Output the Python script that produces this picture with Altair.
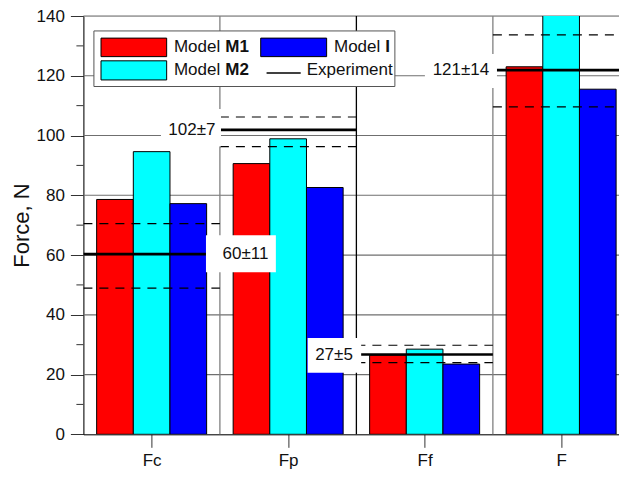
import altair as alt
import pandas as pd

categories = ["Fc", "Fp", "Ff", "F"]
model_m1 = [78.6, 90.6, 26.5, 123.0]
model_m2 = [94.6, 98.9, 28.5, 141.0]
model_i = [77.2, 82.6, 23.5, 115.5]
exp_mean = [60.3, 101.9, 26.7, 121.9]
exp_upper = [70.5, 106.2, 29.8, 133.7]
exp_lower = [48.9, 96.3, 24.0, 109.6]
exp_labels = ["60\u00b111", "102\u00b17", "27\u00b15", "121\u00b114"]

label_x = [1.687, 1.295, 2.336, 3.266]
label_y = [60.3, 101.9, 26.7, 121.9]
box_x = [1.654, 1.288, 2.339, 3.266]
box_y = [60.4, 102.6, 26.4, 121.6]
box_halfw = [0.256, 0.22, 0.196, 0.264]
box_halfh = [6.2, 6.3, 5.8, 5.7]

y_major = [0, 20, 40, 60, 80, 100, 120, 140]
y_grid = [20, 40, 60, 80, 100, 120, 140]
y_minor = [10, 30, 50, 70, 90, 110, 130]
boundaries = [1.5, 2.5, 3.5]
boundary_colors = ["#808080", "#000000", "#808080"]

series_names = ["M1", "M2", "I"]
series_values = [model_m1, model_m2, model_i]
series_colors = ["#ff0000", "#00ffff", "#0000ff"]

legend_frame_x = [0.577, 2.782]
legend_frame_y = [116.4, 135.0]
swatch_x0 = [0.629, 0.629, 1.799]
swatch_x1 = [1.110, 1.110, 2.282]
swatch_y0 = [126.4, 118.6, 126.4]
swatch_y1 = [132.6, 125.0, 132.6]
legend_text_x = [1.163, 1.163, 2.336]
legend_text_y = [129.5, 121.9, 129.5]
legend_bold_x = [1.540, 1.540, 2.712]
legend_exp_line_x = [1.842, 2.092]
legend_exp_line_y = 120.9
legend_exp_text_x = 2.136

FONT = "Liberation Sans"
bar_w = 0.2686
group_half = 1.5 * bar_w
x_domain = [0.5, 4.424]

rows = []
for k, (s, vals) in enumerate(zip(series_names, series_values)):
    for i, v in enumerate(vals):
        x0 = (i + 1) - group_half + k * bar_w
        rows.append({"series": s, "value": v, "x0": x0, "x1": x0 + bar_w})
bars_df = pd.DataFrame(rows)

exp_df = pd.DataFrame({
    "pos": [1, 2, 3, 4], "mean": exp_mean, "upper": exp_upper,
    "lower": exp_lower, "label": exp_labels,
    "lx": label_x, "ly": label_y,
})
exp_df["x0"] = exp_df["pos"] - 0.5
exp_df["x1"] = exp_df["pos"] + 0.5
dash_df = pd.concat([
    exp_df[["x0", "x1"]].assign(v=exp_df["upper"]),
    exp_df[["x0", "x1"]].assign(v=exp_df["lower"]),
])
box_df = pd.DataFrame({"bx": box_x, "by": box_y, "hw": box_halfw, "hh": box_halfh})
box_df["x0"] = box_df.bx - box_df.hw
box_df["x1"] = box_df.bx + box_df.hw
box_df["y0"] = box_df.by - box_df.hh
box_df["y1"] = box_df.by + box_df.hh

bound_df = pd.DataFrame({"b": boundaries, "c": boundary_colors})
minor_df = pd.DataFrame({"mv": y_minor})
grid_df = pd.DataFrame({"gv": y_grid})

frame_df = pd.DataFrame({"x0": [legend_frame_x[0]], "x1": [legend_frame_x[1]],
                         "y0": [legend_frame_y[0]], "y1": [legend_frame_y[1]]})
swatch_df = pd.DataFrame({"series": series_names, "x0": swatch_x0, "x1": swatch_x1,
                          "y0": swatch_y0, "y1": swatch_y1})
ltext_df = pd.DataFrame({"t": ["Model"] * 3, "x": legend_text_x, "y": legend_text_y})
lbold_df = pd.DataFrame({"t": series_names, "x": legend_bold_x, "y": legend_text_y})
lexp_line_df = pd.DataFrame({"x0": [legend_exp_line_x[0]], "x1": [legend_exp_line_x[1]],
                             "y": [legend_exp_line_y]})
lexp_text_df = pd.DataFrame({"t": ["Experiment"], "x": [legend_exp_text_x], "y": [legend_text_y[1]]})

xs = alt.Scale(domain=x_domain, nice=False, zero=False)
ys = alt.Scale(domain=[0, 140], nice=False)
cs = alt.Scale(domain=series_names, range=series_colors)

label_expr = "[" + ",".join("'%s'" % c for c in categories) + "][datum.value - 1]"

x_axis = alt.Axis(
    values=[1, 2, 3, 4], labelExpr=label_expr, title=None, grid=False,
    tickSize=13, labelPadding=5, labelFontSize=17, labelFont=FONT,
    labelColor="#111", domainColor="black", tickColor="#333",
    labelFlush=False)
y_axis = alt.Axis(
    values=y_major, title="Force, N", grid=False,
    tickSize=13, labelPadding=6, labelFontSize=17,
    labelFont=FONT, labelColor="#111", domainColor="black", tickColor="#333",
    titleFont=FONT, titleFontSize=22, titleFontWeight="normal",
    titleColor="#111", titleX=-62, titleY=209.1, titleBaseline="middle",
    titleAlign="center", labelFlush=False)


def X(field):
    return alt.X(field, scale=xs, axis=x_axis)


def Y(field):
    return alt.Y(field, scale=ys, axis=y_axis)


grid = alt.Chart(grid_df).mark_rule(color="#6f6f6f", strokeWidth=1.2).encode(
    y=Y("gv:Q"),
)

bars = alt.Chart(bars_df).mark_rect(stroke="black", strokeWidth=1, clip=True).encode(
    x=X("x0:Q"), x2="x1:Q",
    y=Y("value:Q"), y2=alt.datum(0),
    color=alt.Color("series:N", scale=cs, legend=None),
)

bounds = alt.Chart(bound_df).mark_rule(strokeWidth=1.3).encode(
    x=X("b:Q"),
    color=alt.Color("c:N", scale=None, legend=None),
)

minor = alt.Chart(minor_df).mark_rule(color="#333", strokeWidth=1, clip=False).encode(
    y=Y("mv:Q"), x=alt.value(-7), x2=alt.value(0),
)

solid = alt.Chart(exp_df).mark_rule(color="black", strokeWidth=2.6, clip=True).encode(
    x=X("x0:Q"), x2="x1:Q", y=Y("mean:Q"),
)
dashed = alt.Chart(dash_df).mark_rule(color="black", strokeWidth=1.2,
                                      strokeDash=[9, 7], clip=True).encode(
    x=X("x0:Q"), x2="x1:Q", y=Y("v:Q"),
)

boxes = alt.Chart(box_df).mark_rect(color="white").encode(
    x=X("x0:Q"), x2="x1:Q", y=Y("y0:Q"), y2="y1:Q",
)
labels = alt.Chart(exp_df).mark_text(fontSize=17, font=FONT, color="#111",
                                     align="center", baseline="middle").encode(
    x=X("lx:Q"), y=Y("ly:Q"), text="label:N",
)

frame = alt.Chart(frame_df).mark_rect(fill="white", stroke="#555", strokeWidth=1).encode(
    x=X("x0:Q"), x2="x1:Q", y=Y("y0:Q"), y2="y1:Q",
)
swatches = alt.Chart(swatch_df).mark_rect(stroke="black", strokeWidth=1).encode(
    x=X("x0:Q"), x2="x1:Q", y=Y("y0:Q"), y2="y1:Q",
    color=alt.Color("series:N", scale=cs, legend=None),
)
ltext = alt.Chart(ltext_df).mark_text(fontSize=17, font=FONT, color="#111",
                                      align="left", baseline="middle").encode(
    x=X("x:Q"), y=Y("y:Q"), text="t:N")
lbold = alt.Chart(lbold_df).mark_text(fontSize=17, font=FONT, color="#111", fontWeight="bold",
                                      align="left", baseline="middle").encode(
    x=X("x:Q"), y=Y("y:Q"), text="t:N")
lexp_line = alt.Chart(lexp_line_df).mark_rule(color="black", strokeWidth=1.6).encode(
    x=X("x0:Q"), x2="x1:Q", y=Y("y:Q"))
lexp_text = alt.Chart(lexp_text_df).mark_text(fontSize=17, font=FONT, color="#111",
                                              align="left", baseline="middle").encode(
    x=X("x:Q"), y=Y("y:Q"), text="t:N")

chart = alt.layer(
    grid, bars, bounds, minor, solid, dashed, boxes, labels,
    frame, swatches, ltext, lbold, lexp_line, lexp_text,
).properties(
    width=535.6, height=418.3,
    padding={"left": 75.4, "top": 8, "right": 0, "bottom": 36.7},
    autosize=alt.AutoSizeParams(type="none"),
).configure_view(stroke=None).configure(font=FONT)

chart.save("out.html", embed_options={"renderer": "svg", "actions": False})
